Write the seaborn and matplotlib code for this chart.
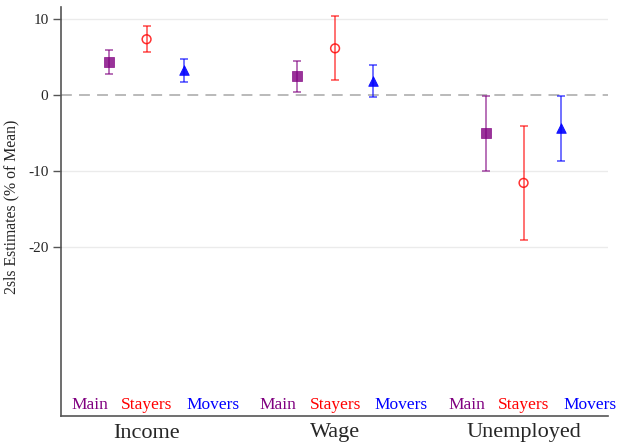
import pandas as pd
import numpy as np
import seaborn as sns
import matplotlib
matplotlib.use("Agg")
import matplotlib.pyplot as plt
import matplotlib.transforms as mtransforms

# data
outcomes = ["Income", "Wage", "Unemployed"]
samples = ["Main", "Stayers", "Movers"]
est = [4.4, 7.4, 3.3,
       2.5, 6.2, 1.9,
       -5.0, -11.5, -4.3]
ci_lo = [2.8, 5.7, 1.8,
         0.4, 2.0, -0.2,
         -9.9, -19.0, -8.6]
ci_hi = [6.0, 9.2, 4.8,
         4.6, 10.4, 4.0,
         -0.1, -4.0, -0.1]
yticks = [10, 0, -10, -20]

colors = {"Main": "#800080", "Stayers": "#ff0000", "Movers": "#0000ff"}
markers = {"Main": "s", "Stayers": "o", "Movers": "^"}
label_shift = {"Main": -1.51, "Stayers": 0.0, "Movers": 1.75}

df = pd.DataFrame({
    "outcome": np.repeat(outcomes, len(samples)),
    "sample": samples * len(outcomes),
    "est": est, "lo": ci_lo, "hi": ci_hi,
})
df["x"] = df["outcome"].map({o: i * 5 for i, o in enumerate(outcomes)}) + \
    df["sample"].map({s: i for i, s in enumerate(samples)})

sns.set_theme(style="white")
plt.rcParams["font.family"] = ["Liberation Serif", "DejaVu Serif"]

fig = plt.figure(figsize=(6.18, 4.42), dpi=100)
ax = fig.add_axes([61 / 618, 26 / 442, 547 / 618, 409 / 442])

for y in [10, -10, -20]:
    ax.axhline(y, color="#ebebeb", lw=1, zorder=0)
ax.axhline(0, color="#b4b4b4", lw=1.3, ls=(0, (6, 4)), zorder=0)

for s in samples:
    d = df[df["sample"] == s]
    ax.errorbar(d["x"], d["est"], yerr=[d["est"] - d["lo"], d["hi"] - d["est"]],
                fmt="none", ecolor=colors[s], alpha=0.65, elinewidth=1.2,
                capsize=3, capthick=1.2, zorder=2)
    if s == "Stayers":
        sns.scatterplot(data=d, x="x", y="est", ax=ax, marker="o", s=40,
                        facecolor="none", edgecolor=colors[s], linewidth=1.1,
                        alpha=0.8, zorder=3)
    else:
        sns.scatterplot(data=d, x="x", y="est", ax=ax, marker=markers[s],
                        s=48, color=colors[s], edgecolor=colors[s],
                        alpha=0.8 if s == "Main" else 0.9, zorder=3)

ax.set_xlim(-1.27, 13.24)
ax.set_ylim(-42.17, 11.64)
ax.set_yticks(yticks)
ax.set_yticklabels([str(t) for t in yticks], fontsize=11)
ax.set_xticks([])
ax.set_xlabel("")
ax.set_ylabel("2sls Estimates (% of Mean)", fontsize=11.3)
ax.yaxis.set_label_coords(-0.076, 0.512)
ax.tick_params(axis="y", left=True, length=6, width=1, color="#555555", pad=3)

for side in ["top", "right"]:
    ax.spines[side].set_visible(False)
for side in ["left", "bottom"]:
    ax.spines[side].set_color("#555555")
    ax.spines[side].set_linewidth(1.2)

trans = mtransforms.blended_transform_factory(ax.transData, ax.transAxes)
for i, o in enumerate(outcomes):
    for s in samples:
        ax.text(i * 5 + 1 + label_shift[s], 7 / 409, s, color=colors[s],
                ha="center", va="baseline", fontsize=12.5, transform=trans)
    ax.text(i * 5 + 1, -21.5 / 409, o, ha="center", va="baseline",
            fontsize=16, transform=trans)

fig.savefig("out.png", dpi=100)
